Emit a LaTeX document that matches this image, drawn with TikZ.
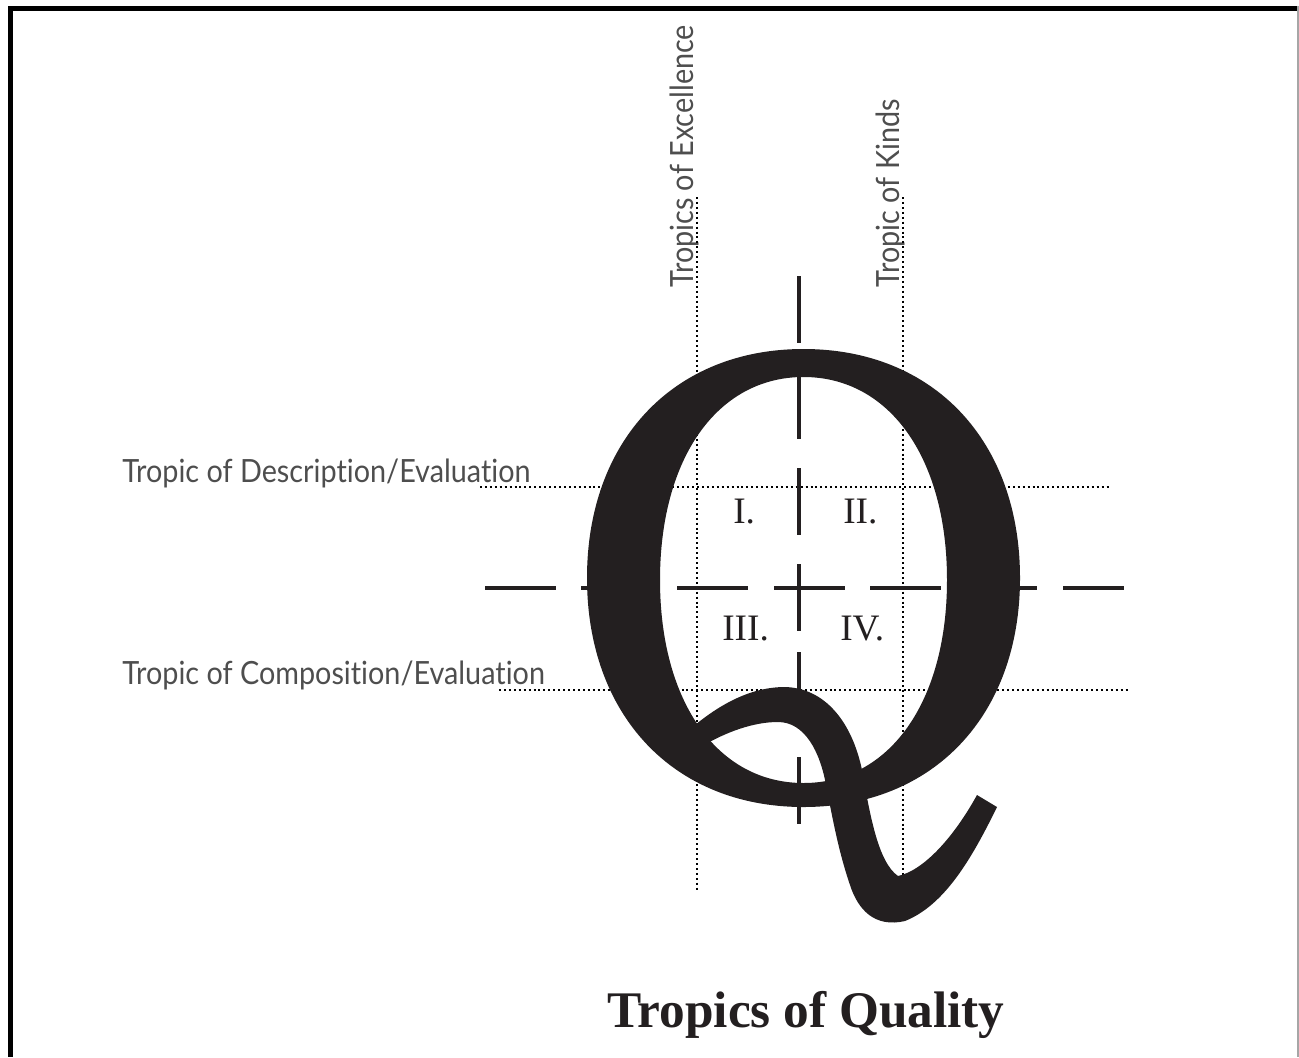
\documentclass[tikz,border=0pt]{standalone}
\usepackage{fontspec}
\usepackage{tikz}
\usetikzlibrary{positioning}
\setmainfont{Liberation Serif}
\newfontfamily\labelfont[FakeStretch=0.9, RawFeature=-liga]{Lato}
\definecolor{qblack}{RGB}{35,31,32}
\definecolor{labelgray}{RGB}{78,78,78}

\tikzset{
  tropic/.style={draw=black, line width=1.5pt, dash pattern=on 1.5pt off 2.2pt},
  axis dash/.style={draw=qblack, line width=3pt},
  tropic label/.style={font=\labelfont\fontsize{24}{28}\selectfont, text=labelgray, inner sep=0pt, anchor=base west},
  quadrant/.style={font=\fontsize{28}{32}\selectfont, text=qblack, inner sep=0pt, anchor=base west},
}

\begin{document}
\begin{tikzpicture}[x=0.75pt, y=-0.75pt]
        \useasboundingbox (0,0) rectangle (1299,1057);
        % Frame (open at the bottom)
        \fill[black] (8,6) rectangle (13,1057);
        \fill[black] (8,6) rectangle (1299,11);
        \draw[gray!70, line width=1.2pt] (1298,6) -- (1298,1057);

        % Tropic labels
        \node[tropic label] (desc) at (122,482) {Tropic of Description/Evaluation};
        \node[tropic label] (comp) at (122,684) {Tropic of Composition/Evaluation};
        \node[tropic label, rotate=90] (excel) at (693,288) {Tropics of Excellence};
        \node[tropic label, rotate=90] (kinds) at (899,288) {Tropic of Kinds};

        % Dotted tropics
        \draw[tropic] (480,487) -- (1110,487);
        \draw[tropic] (499,690) -- (1130,690);
        \draw[tropic] (697,197) -- (697,892);
        \draw[tropic] (903,197) -- (903,890);

        % Dashed axes through the centre
        \foreach \y in {276,372,468,564,652,757}{
          \draw[axis dash] (799,\y) -- ++(0,67);
        }
        \foreach \x/\l in {485/71, 581/71, 677/71, 774/71, 870/71, 966/71, 1063/61}{
          \draw[axis dash] (\x,588) -- ++(\l,0);
        }

        % The big Q: bowl and tail
        \fill[qblack, even odd rule]
          (587,578) .. controls (587,440.6) and (673.6,349) .. (803.5,349)
          .. controls (933.4,349) and (1020,440.6) .. (1020,578)
          .. controls (1020,715.4) and (933.4,807) .. (803.5,807)
          .. controls (673.6,807) and (587,715.4) .. (587,578) -- cycle
          (660,580) .. controls (660,458.2) and (717.4,377) .. (803.5,377)
          .. controls (889.6,377) and (947,458.2) .. (947,580)
          .. controls (947,701.8) and (889.6,783) .. (803.5,783)
          .. controls (717.4,783) and (660,701.8) .. (660,580) -- cycle;
        \fill[qblack]
          (678,740) .. controls (715,705) and (750,687) .. (785,687)
          .. controls (825,688) and (852,722) .. (862,770)
          .. controls (870,815) and (878,862) .. (898,876)
          .. controls (925,870) and (955,835) .. (977,795)
          -- (997,807)
          .. controls (972,858) and (945,905) .. (905,921)
          .. controls (875,928) and (858,910) .. (850,885)
          .. controls (838,850) and (832,815) .. (826,785)
          .. controls (820,752) and (805,722) .. (778,722)
          .. controls (752,722) and (725,733) .. (704,745)
          -- cycle;

        % Quadrants
        \foreach \x/\y/\t [count=\i] in {733/523/I., 843/523/II., 722/640/III., 840/640/IV.}{
          \node[quadrant] (quad\i) at (\x,\y) {\t};
        }

        % Title
        \node[font=\bfseries\fontsize{38.5}{42}\selectfont, text=qblack, inner sep=0pt, anchor=base west]
          (title) at (607,1027) {Tropics of Quality};
      \end{tikzpicture}
\end{document}
